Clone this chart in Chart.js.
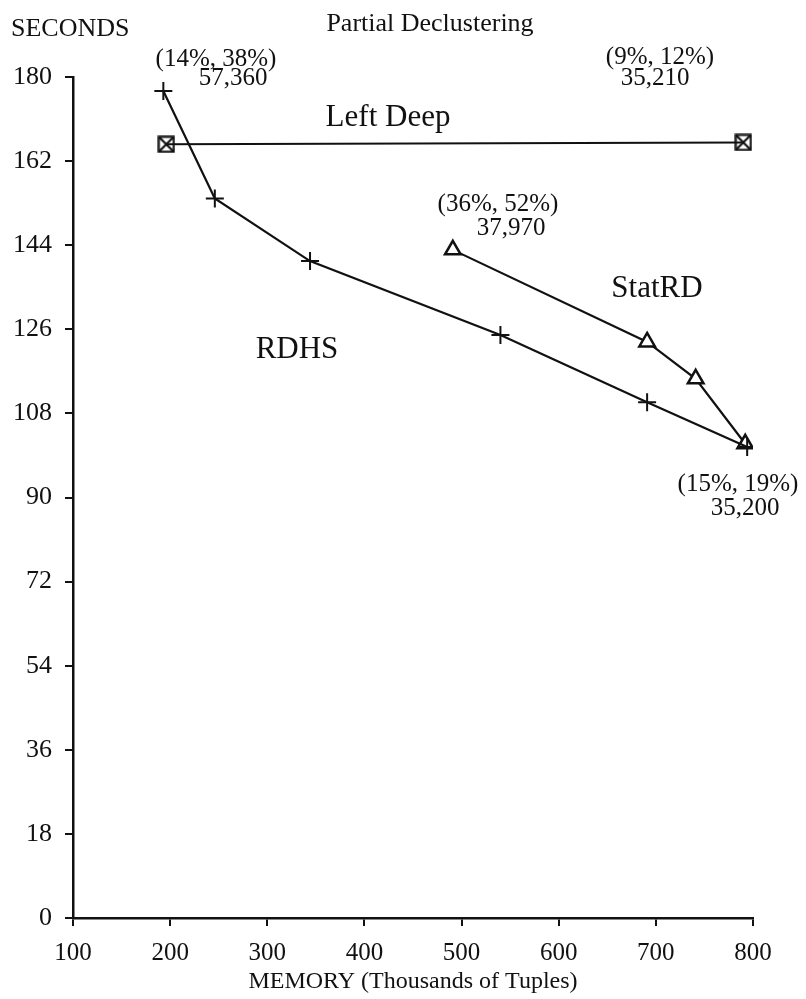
<!DOCTYPE html>
<html>
<head>
<meta charset="utf-8">
<title>Partial Declustering</title>
<script src="https://cdn.jsdelivr.net/npm/chart.js@4"></script>
<style>
    html, body { margin: 0; padding: 0; background: #fff; }
    .wrap { width: 806px; height: 999px; }
</style>
</head>
<body>
<div class="wrap"><canvas id="chart"></canvas></div>
<script>
// values
const memoryTicks = [100, 200, 300, 400, 500, 600, 700, 800];
const secondTicks = [0, 18, 36, 54, 72, 90, 108, 126, 144, 162, 180];

const rdhsMemory = [193, 246, 344, 540, 691, 794];
const rdhsSeconds = [177, 154, 140.6, 124.8, 110.4, 100.8];

const statMemory = [491, 691, 741, 792];
const statSeconds = [143, 123.3, 115.4, 101.5];

const leftDeepMemory = [196, 790];
const leftDeepSeconds = [165.6, 166];

const ink = '#111';
const serif = "'Liberation Serif', 'DejaVu Serif', serif";

const toPoints = (xs, ys) => xs.map((x, i) => ({ x: x, y: ys[i] }));

// boxed X marker for Left Deep
const boxX = document.createElement('canvas');
boxX.width = 18;
boxX.height = 18;
const bctx = boxX.getContext('2d');
bctx.strokeStyle = ink;
bctx.lineWidth = 2.2;
bctx.strokeRect(1.5, 1.5, 15, 15);
bctx.beginPath();
bctx.moveTo(2, 2); bctx.lineTo(16, 16);
bctx.moveTo(16, 2); bctx.lineTo(2, 16);
bctx.stroke();

const notes = [
    { text: '(14%, 38%)', x: 216, y: 59 },
    { text: '57,360', x: 233, y: 78 },
    { text: '(9%, 12%)', x: 660, y: 57 },
    { text: '35,210', x: 655, y: 78 },
    { text: '(36%, 52%)', x: 498, y: 204 },
    { text: '37,970', x: 511, y: 228 },
    { text: '(15%, 19%)', x: 738, y: 484 },
    { text: '35,200', x: 745, y: 508 }
];

const bigNotes = [
    { text: 'Left Deep', x: 388, y: 118 },
    { text: 'StatRD', x: 657, y: 289 },
    { text: 'RDHS', x: 297, y: 350 }
];

const textPlugin = {
    id: 'texts',
    afterDraw(chart) {
        const ctx = chart.ctx;
        ctx.save();
        ctx.fillStyle = ink;
        ctx.textAlign = 'center';
        ctx.textBaseline = 'middle';
        ctx.font = '25px ' + serif;
        notes.forEach(n => ctx.fillText(n.text, n.x, n.y));
        ctx.font = '31px ' + serif;
        bigNotes.forEach(n => ctx.fillText(n.text, n.x, n.y));
        ctx.font = '26px ' + serif;
        ctx.fillText('Partial Declustering', 430, 24);
        ctx.textAlign = 'left';
        ctx.fillText('SECONDS', 11, 29);
        ctx.textAlign = 'center';
        ctx.font = '24px ' + serif;
        ctx.fillText('MEMORY (Thousands of Tuples)', 413, 982);
        ctx.restore();
    }
};

const chart = document.getElementById('chart');

new Chart(chart, {
    type: 'scatter',
    data: {
        datasets: [
            {
                label: 'Left Deep',
                data: toPoints(leftDeepMemory, leftDeepSeconds),
                showLine: true,
                borderColor: ink,
                borderWidth: 2,
                pointStyle: boxX,
                pointRadius: 9
            },
            {
                label: 'RDHS',
                data: toPoints(rdhsMemory, rdhsSeconds),
                showLine: true,
                borderColor: ink,
                borderWidth: 2.2,
                pointStyle: 'cross',
                pointRadius: 9,
                pointBorderWidth: 2,
                pointBorderColor: ink
            },
            {
                label: 'StatRD',
                data: toPoints(statMemory, statSeconds),
                showLine: true,
                borderColor: ink,
                borderWidth: 2.2,
                pointStyle: 'triangle',
                pointRadius: 9,
                pointBorderWidth: 2.5,
                pointBorderColor: ink,
                pointBackgroundColor: '#fff'
            }
        ]
    },
    options: {
        responsive: true,
        maintainAspectRatio: false,
        animation: false,
        layout: { padding: { top: 77, right: 53, left: 0, bottom: 0 } },
        plugins: {
            legend: { display: false },
            tooltip: { enabled: false }
        },
        scales: {
            x: {
                type: 'linear',
                min: 100,
                max: 800,
                afterBuildTicks: s => { s.ticks = memoryTicks.map(v => ({ value: v })); },
                afterFit: s => { s.height = 81; },
                grid: { drawOnChartArea: false, drawTicks: true, tickLength: 8, color: ink, lineWidth: 2 },
                border: { display: true, color: ink, width: 2.5 },
                ticks: { color: ink, font: { family: serif, size: 25 }, padding: 12, maxRotation: 0 }
            },
            y: {
                type: 'linear',
                min: 0,
                max: 180,
                afterBuildTicks: s => { s.ticks = secondTicks.map(v => ({ value: v })); },
                afterFit: s => { s.width = 73; },
                grid: { drawOnChartArea: false, drawTicks: true, tickLength: 8, color: ink, lineWidth: 2 },
                border: { display: true, color: ink, width: 2.5 },
                ticks: { color: ink, font: { family: serif, size: 26 }, padding: 13 }
            }
        }
    },
    plugins: [textPlugin]
});
</script>
</body>
</html>
